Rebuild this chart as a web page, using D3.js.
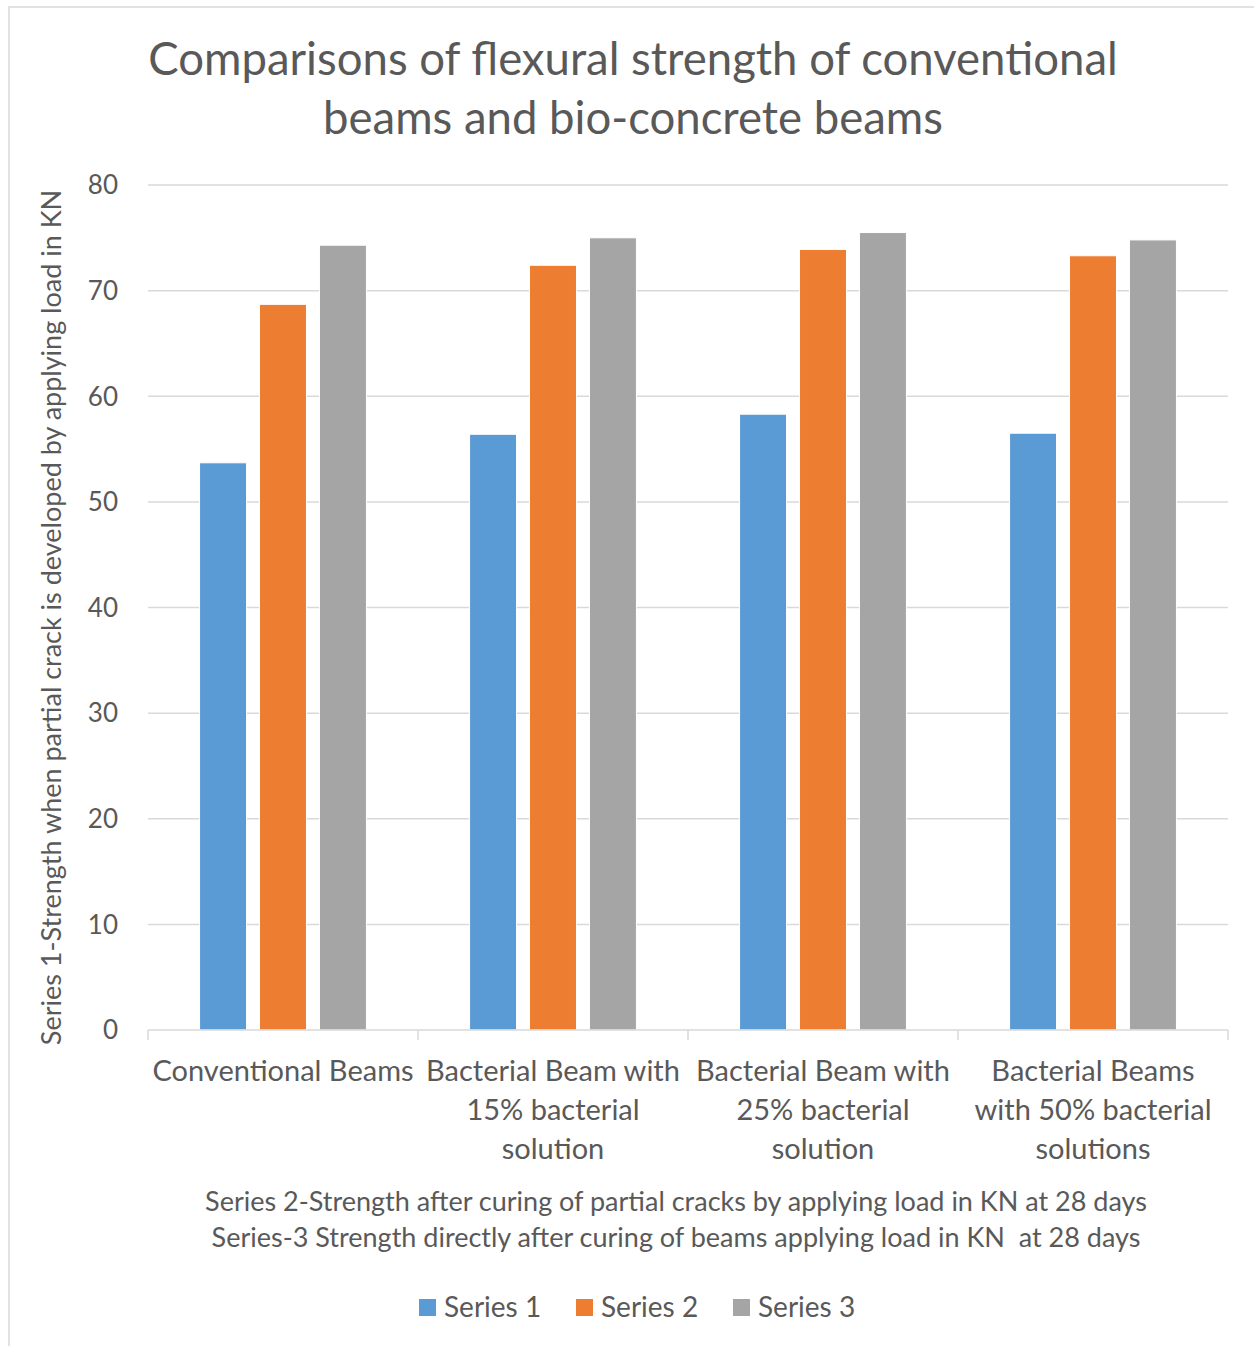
<!DOCTYPE html>
<html>
<head>
<meta charset="utf-8">
<script src="https://cdn.jsdelivr.net/npm/d3@7"></script>
<style>
  html, body { margin: 0; padding: 0; background: #fff; }
  svg { display: block; }
  text { font-family: Lato, "Open Sans", sans-serif; fill: #595959; white-space: pre; }
</style>
</head>
<body>
<svg id="chart" width="1254" height="1346"></svg>
<script>
// Beam categories (multi-line axis labels)
const categories = [
  ["Conventional Beams"],
  ["Bacterial Beam with", "15% bacterial", "solution"],
  ["Bacterial Beam with", "25% bacterial", "solution"],
  ["Bacterial Beams", "with 50% bacterial", "solutions"]
];
const seriesNames = ["Series 1", "Series 2", "Series 3"];
// Load in KN
const series1 = [53.7, 56.4, 58.3, 56.5];
const series2 = [68.7, 72.4, 73.9, 73.3];
const series3 = [74.3, 75.0, 75.5, 74.8];
const yTicks = [0, 10, 20, 30, 40, 50, 60, 70, 80];
const colors = ["#5b9bd5", "#ed7d31", "#a5a5a5"];

const titleLines = ["Comparisons of flexural strength of conventional", "beams and bio-concrete beams"];
const yTitle = "Series 1-Strength when partial crack is developed by applying load in KN";
const xTitleLines = [
  "Series 2-Strength after curing of partial cracks by applying load in KN at 28 days",
  "Series-3 Strength directly after curing of beams applying load in KN  at 28 days"
];

const svg = d3.select("#chart");

// chart frame
svg.append("rect").attr("x", 9).attr("y", 7).attr("width", 1300).attr("height", 1400)
  .attr("fill", "#fff").attr("stroke", "#d9d9d9").attr("stroke-width", 1.5);

const plot = { left: 148, right: 1228, top: 185, bottom: 1030 };

const x0 = d3.scaleBand().domain(d3.range(categories.length))
  .range([plot.left, plot.right]).paddingInner(0).paddingOuter(0);
const y = d3.scaleLinear().domain([0, 80]).range([plot.bottom, plot.top]);

// gridlines
svg.append("g").selectAll("line").data(yTicks.filter(d => d > 0)).join("line")
  .attr("x1", plot.left).attr("x2", plot.right)
  .attr("y1", d => y(d)).attr("y2", d => y(d))
  .attr("stroke", "#d9d9d9").attr("stroke-width", 1.5);

// y tick labels
svg.append("g").selectAll("text").data(yTicks).join("text")
  .attr("x", 118).attr("y", d => y(d)).attr("dy", "0.36em")
  .attr("text-anchor", "end").attr("font-size", 26)
  .text(d => d);

// bars: bar width ~47, step 60 within each 270 band
const barW = x0.bandwidth() * 0.174;
const step = x0.bandwidth() * 0.222;
const all = [series1, series2, series3];
all.forEach((vals, si) => {
  svg.append("g").selectAll("rect").data(vals).join("rect")
    .attr("x", (d, i) => x0(i) + x0.bandwidth() / 2 - barW / 2 + (si - 1) * step)
    .attr("width", barW)
    .attr("y", d => y(d))
    .attr("height", d => y(0) - y(d))
    .attr("fill", colors[si])
    .attr("stroke", "#fff").attr("stroke-width", 1);
});

// x axis line and category separators
svg.append("line").attr("x1", plot.left).attr("x2", plot.right)
  .attr("y1", y(0)).attr("y2", y(0)).attr("stroke", "#d9d9d9").attr("stroke-width", 1.5);
const seps = d3.range(categories.length + 1).map(i => plot.left + i * x0.bandwidth());
svg.append("g").selectAll("line").data(seps).join("line")
  .attr("x1", d => d).attr("x2", d => d).attr("y1", y(0)).attr("y2", y(0) + 10)
  .attr("stroke", "#d9d9d9").attr("stroke-width", 1.5);

// category labels
categories.forEach((lines, i) => {
  const t = svg.append("text").attr("text-anchor", "middle").attr("font-size", 29);
  lines.forEach((ln, k) => {
    t.append("tspan").attr("x", x0(i) + x0.bandwidth() / 2)
      .attr("y", 1081 + k * 39).text(ln);
  });
});

// title
titleLines.forEach((ln, k) => {
  svg.append("text").attr("x", 633).attr("y", 75 + k * 59)
    .attr("text-anchor", "middle").attr("font-size", 45.5).text(ln);
});

// y axis title
svg.append("text")
  .attr("transform", `translate(61, ${(plot.top + plot.bottom) / 2 + 10}) rotate(-90)`)
  .attr("text-anchor", "middle").attr("font-size", 27).text(yTitle);

// x axis title
xTitleLines.forEach((ln, k) => {
  svg.append("text").attr("x", 676).attr("y", 1211 + k * 36)
    .attr("text-anchor", "middle").attr("font-size", 27).text(ln);
});

// legend
const legendX = [419, 576, 733];
seriesNames.forEach((name, i) => {
  svg.append("rect").attr("x", legendX[i]).attr("y", 1299).attr("width", 17).attr("height", 17)
    .attr("fill", colors[i]);
  svg.append("text").attr("x", legendX[i] + 25).attr("y", 1317)
    .attr("font-size", 28).text(name);
});
</script>
</body>
</html>
